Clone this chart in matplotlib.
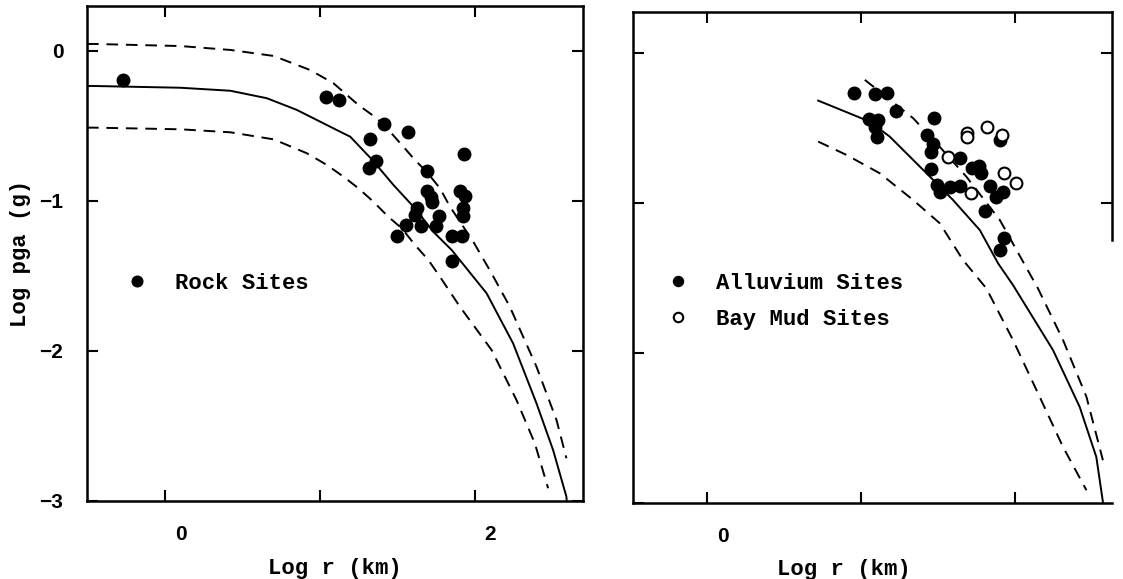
import numpy as np
import matplotlib
matplotlib.use("Agg")
import matplotlib.pyplot as plt
from matplotlib.transforms import ScaledTranslation

# ── Data ────────────────────────────────────────────────────────────────────
# left panel: rock sites
rock_x = [-0.27, 1.043, 1.127, 1.417, 1.571, 1.326, 1.932, 1.365, 1.32, 1.693,
          1.693, 1.719, 1.726, 1.906, 1.938, 1.925, 1.925, 1.629, 1.616, 1.771,
          1.751, 1.558, 1.655, 1.50, 1.854, 1.919, 1.854]
rock_y = [-0.193, -0.307, -0.327, -0.487, -0.54, -0.587, -0.687, -0.733, -0.78, -0.80,
          -0.933, -0.973, -1.007, -0.933, -0.967, -1.047, -1.10, -1.047, -1.093, -1.10,
          -1.167, -1.16, -1.167, -1.233, -1.233, -1.233, -1.40]

# left panel: median curve and +/- one sigma curves
mid_x = [-0.5, -0.466, 0.103, 0.425, 0.661, 0.854, 1.133, 1.198, 1.337, 1.477,
         1.616, 1.734, 1.853, 2.078, 2.249, 2.40, 2.507, 2.593, 2.595]
mid_y = [-0.233, -0.233, -0.245, -0.265, -0.315, -0.393, -0.538, -0.571, -0.722, -0.893,
         -1.049, -1.205, -1.327, -1.615, -1.949, -2.349, -2.66, -2.971, -3.0]
hi_x = [-0.5, -0.455, 0.103, 0.425, 0.704, 0.940, 1.09, 1.251, 1.37, 1.455, 1.541,
        1.616, 1.691, 1.777, 1.842, 1.992, 2.11, 2.228, 2.40, 2.529, 2.593]
hi_y = [0.047, 0.047, 0.033, 0.007, -0.033, -0.127, -0.215, -0.36, -0.449, -0.538, -0.638,
        -0.727, -0.805, -0.915, -1.038, -1.271, -1.482, -1.705, -2.105, -2.46, -2.715]
lo_x = [-0.5, -0.455, 0.103, 0.425, 0.704, 0.919, 1.048, 1.155, 1.251, 1.348, 1.444,
        1.531, 1.616, 1.702, 1.777, 1.906, 2.11, 2.271, 2.389, 2.475]
lo_y = [-0.511, -0.511, -0.522, -0.542, -0.589, -0.682, -0.76, -0.838, -0.915, -1.005, -1.105,
        -1.182, -1.293, -1.393, -1.505, -1.705, -1.993, -2.327, -2.615, -2.915]

# right panel: alluvium (filled) and bay mud (open) sites
alluv_x = [0.953, 1.089, 1.169, 1.225, 1.052, 1.110, 1.089, 1.104, 1.472, 1.425,
           1.464, 1.453, 1.645, 1.451, 1.723, 1.766, 1.782, 1.49, 1.511, 1.576,
           1.641, 1.84, 1.922, 1.875, 1.803, 1.901, 1.927, 1.905]
alluv_y = [-0.271, -0.277, -0.271, -0.387, -0.444, -0.449, -0.493, -0.564, -0.435, -0.549,
           -0.609, -0.66, -0.70, -0.777, -0.771, -0.755, -0.804, -0.882, -0.927, -0.893,
           -0.889, -0.889, -0.931, -0.964, -1.053, -0.582, -1.237, -1.315]
mud_x = [1.688, 1.688, 1.818, 1.918, 1.565, 1.927, 2.009, 1.717]
mud_y = [-0.537, -0.564, -0.493, -0.549, -0.693, -0.804, -0.871, -0.937]

# right panel curves
r_mid_x = [0.721, 1.056, 1.186, 1.425, 1.597, 1.771, 1.89, 1.987, 2.247, 2.42, 2.528, 2.571]
r_mid_y = [-0.32, -0.46, -0.56, -0.804, -0.982, -1.182, -1.404, -1.549, -1.982, -2.36, -2.693, -2.993]
r_hi_x = [1.024, 1.338, 1.49, 1.684, 1.901, 2.052, 2.149, 2.312, 2.464, 2.571]
r_hi_y = [-0.182, -0.437, -0.604, -0.827, -1.115, -1.393, -1.571, -1.915, -2.293, -2.715]
r_lo_x = [0.721, 0.905, 1.121, 1.338, 1.511, 1.662, 1.814, 1.987, 2.16, 2.312, 2.464]
r_lo_y = [-0.593, -0.682, -0.804, -0.982, -1.137, -1.382, -1.571, -1.915, -2.293, -2.627, -2.915]

y_ticks = [0, -1, -2, -3]
x_ticks = [0, 1, 2]
left_xlabels = ["0", "", "2"]
right_xlabels = ["0", "", ""]

# ── Styling ──────────────────────────────────────────────────────────────────
TYPE_FONT = dict(family="Liberation Mono", fontsize=16, fontweight="bold")
TICK_FONT = "Liberation Sans"
LW_SPINE = 1.8
LW_CURVE = 1.4
DASH = (0, (6, 4))

fig = plt.figure(figsize=(11.23, 5.79), dpi=100)
W, H = 1123, 579


def px_axes(x0, x1, y0, y1):
    return fig.add_axes([x0 / W, 1 - y1 / H, (x1 - x0) / W, (y1 - y0) / H])


def style(ax, xlabels, ylabels):
    for s in ax.spines.values():
        s.set_linewidth(LW_SPINE)
    ax.set_xticks(x_ticks)
    ax.set_xticklabels(xlabels)
    ax.set_yticks(y_ticks)
    ax.tick_params(direction="in", length=8, width=1.5, top=True, right=True,
                   labelsize=15, pad=17)
    if ylabels:
        ax.set_yticklabels(["0", "\u22121", "\u22122", "\u22123"])
    else:
        ax.set_yticklabels([])
    off = ScaledTranslation(0.16, 0, fig.dpi_scale_trans)
    for lab in ax.get_xticklabels() + ax.get_yticklabels():
        lab.set_fontfamily(TICK_FONT)
        lab.set_fontweight("bold")
    for lab in ax.get_xticklabels():
        lab.set_transform(lab.get_transform() + off)


# ── Left panel: rock sites ───────────────────────────────────────────────────
ax1 = px_axes(87, 583, 6, 501)
ax1.plot(mid_x, mid_y, color="black", lw=LW_CURVE)
ax1.plot(hi_x, hi_y, color="black", lw=LW_CURVE, ls=DASH)
ax1.plot(lo_x, lo_y, color="black", lw=LW_CURVE, ls=DASH)
ax1.plot(rock_x, rock_y, "o", color="black", ms=9, label="Rock Sites", ls="none")
ax1.set_xlim(-0.5, 2.70)
ax1.set_ylim(-3.0, 0.30)
style(ax1, left_xlabels, True)
ax1.set_xlabel("Log r (km)", **TYPE_FONT)
ax1.set_ylabel("Log pga (g)", labelpad=6, **TYPE_FONT)
ax1.xaxis.set_label_coords(0.5, -0.115)
ax1.legend(loc="center left", bbox_to_anchor=(0.038, 0.44), frameon=False,
           prop=dict(family="Liberation Mono", size=16, weight="bold"),
           markerscale=0.85, handletextpad=1.2, handlelength=1.0)

# ── Right panel: alluvium and bay mud sites ──────────────────────────────────
ax2 = px_axes(633, 1112, 12, 503)
ax2.plot(r_mid_x, r_mid_y, color="black", lw=LW_CURVE)
ax2.plot(r_hi_x, r_hi_y, color="black", lw=LW_CURVE, ls=DASH)
ax2.plot(r_lo_x, r_lo_y, color="black", lw=LW_CURVE, ls=DASH)
ax2.plot(alluv_x, alluv_y, "o", color="black", ms=9, ls="none", label="Alluvium Sites")
ax2.plot(mud_x, mud_y, "o", mfc="white", mec="black", mew=1.5, ms=8.5, ls="none",
         label="Bay Mud Sites")
ax2.set_xlim(-0.482, 2.63)
ax2.set_ylim(-3.0, 0.27)
style(ax2, right_xlabels, False)
ax2.tick_params(right=False)
ax2.spines["right"].set_visible(False)
sec = ax2.secondary_yaxis("right")
sec.set_yticks([0, -1])
sec.tick_params(direction="in", length=8, width=1.5, labelright=False)
sec.spines["right"].set_linewidth(LW_SPINE)
sec.spines["right"].set_bounds(-1.25, 0.27)
ax2.set_xlabel("Log r (km)", **TYPE_FONT)
ax2.xaxis.set_label_coords(0.44, -0.115)
ax2.legend(loc="upper left", bbox_to_anchor=(0.03, 0.51), frameon=False,
           prop=dict(family="Liberation Mono", size=16, weight="bold"),
           markerscale=0.8, handletextpad=1.2, handlelength=1.0,
           labelspacing=0.7)

fig.savefig("out.png", dpi=100, facecolor="white")
